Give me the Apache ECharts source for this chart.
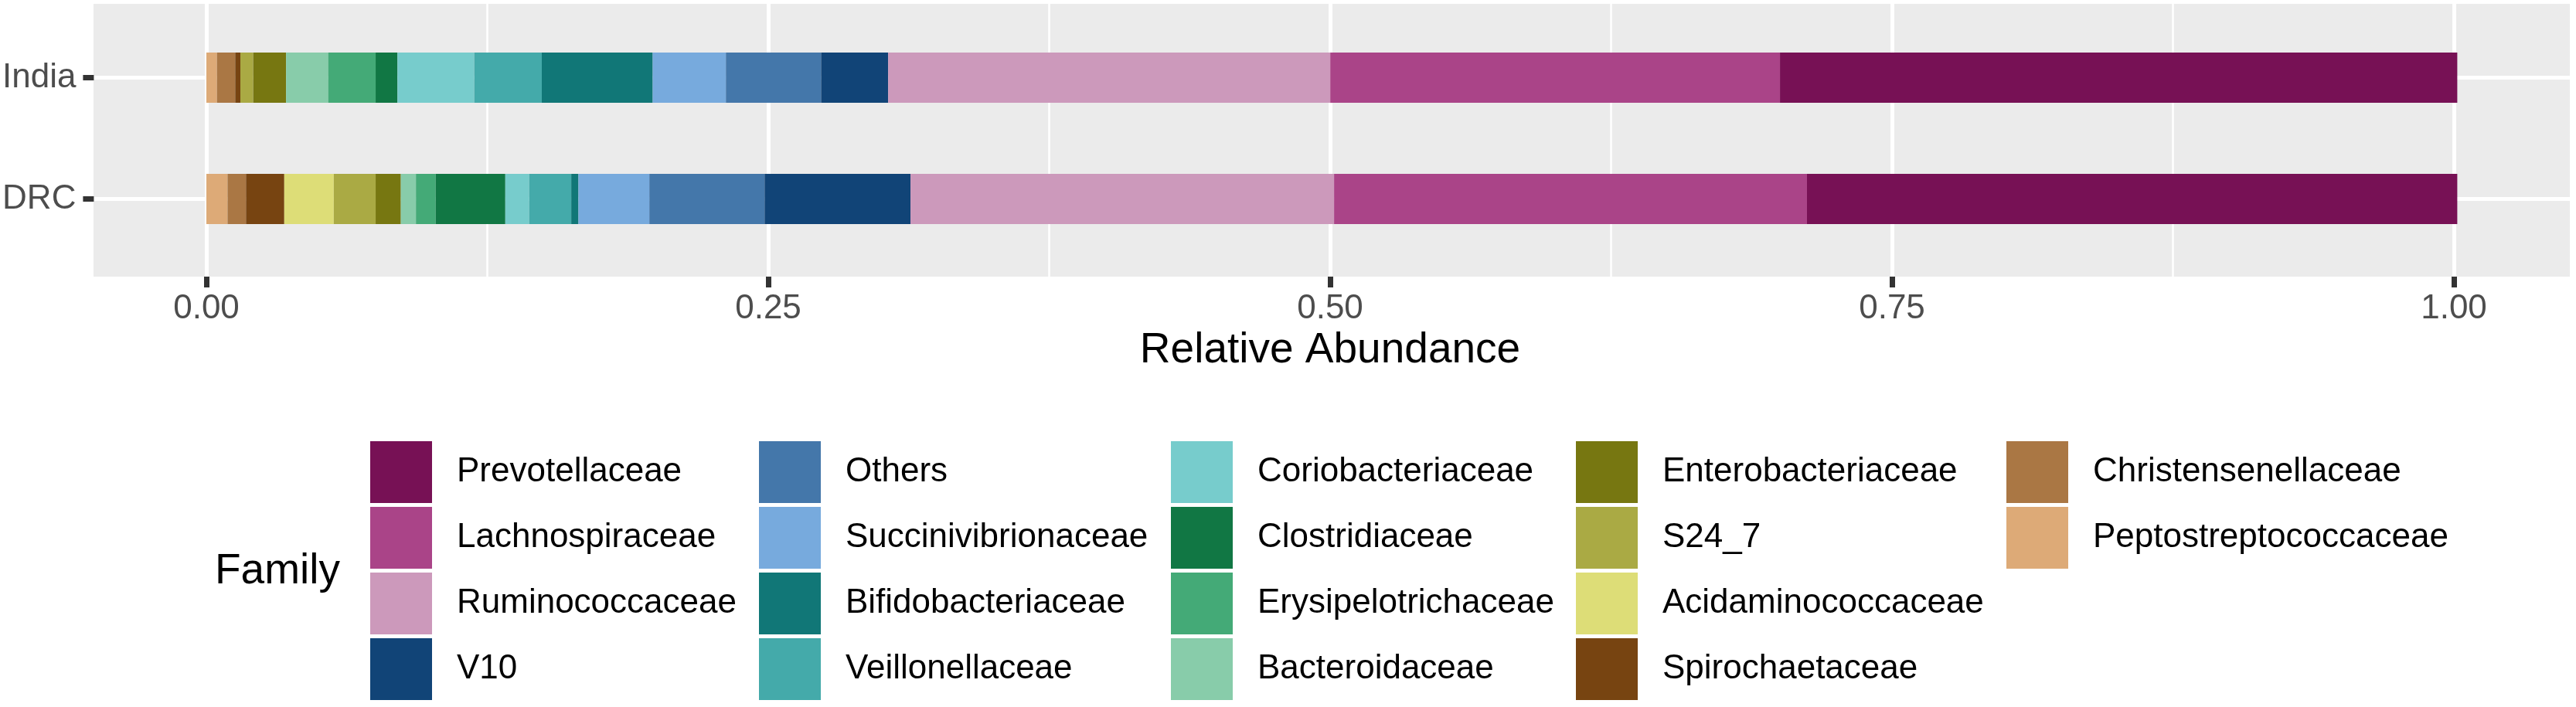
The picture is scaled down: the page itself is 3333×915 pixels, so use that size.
<!DOCTYPE html>
<html>
<head>
<meta charset="utf-8">
<title>Relative Abundance</title>
<style>
  body, html { margin: 0; padding: 0; background: #fff; }
</style>
</head>
<body>
<div id="container" style="width: 3333px; height: 915px"></div>
<script src="https://cdn.jsdelivr.net/npm/echarts/dist/echarts.min.js"></script>
<script>
// legend order (top of stack first)
var families = ['Prevotellaceae', 'Lachnospiraceae', 'Ruminococcaceae', 'V10',
  'Others', 'Succinivibrionaceae', 'Bifidobacteriaceae', 'Veillonellaceae',
  'Coriobacteriaceae', 'Clostridiaceae', 'Erysipelotrichaceae', 'Bacteroidaceae',
  'Enterobacteriaceae', 'S24_7', 'Acidaminococcaceae', 'Spirochaetaceae',
  'Christensenellaceae', 'Peptostreptococcaceae'];
var colors = ['#771155', '#AA4488', '#CC99BB', '#114477',
  '#4477AA', '#77AADD', '#117777', '#44AAAA',
  '#77CCCC', '#117744', '#44AA77', '#88CCAA',
  '#777711', '#AAAA44', '#DDDD77', '#774411',
  '#AA7744', '#DDAA77'];
var countries = ['DRC', 'India'];
var india = [0.3009, 0.1998, 0.1964, 0.0298, 0.0423, 0.0325, 0.0493, 0.0300,
  0.0341, 0.0097, 0.0211, 0.0187, 0.0146, 0.0057, 0, 0.0023, 0.0081, 0.0047];
var drc = [0.2889, 0.2101, 0.1882, 0.0648, 0.0512, 0.0315, 0.0032, 0.0187,
  0.0106, 0.0309, 0.0088, 0.0067, 0.0112, 0.0186, 0.0220, 0.0170, 0.0082, 0.0094];

var FONT = '"Liberation Sans", Arial, sans-serif';
var chart = echarts.init(document.getElementById('container'));

// stack from the left: last legend entry first
var series = [];
for (var i = families.length - 1; i >= 0; i--) {
  series.push({
    name: families[i],
    type: 'bar',
    stack: 'total',
    xAxisIndex: 2,
    yAxisIndex: 2,
    barWidth: 65,
    clip: false,
    itemStyle: { color: colors[i] },
    emphasis: { disabled: true },
    data: [drc[i], india[i]]
  });
}

var legends = [];
var colLeft = [479, 982, 1515, 2039, 2596];
for (var c = 0; c < colLeft.length; c++) {
  legends.push({
    data: families.slice(c * 4, c * 4 + 4),
    orient: 'vertical',
    left: colLeft[c],
    top: 571,
    padding: 0,
    icon: 'rect',
    itemWidth: 80,
    itemHeight: 80,
    itemGap: 5,
    selectedMode: false,
    textStyle: { fontSize: 44, color: '#000', fontFamily: FONT, padding: [0, 0, 0, 27] }
  });
}

var hidden = { show: false };

chart.setOption({
  animation: false,
  backgroundColor: '#fff',
  title: {
    text: 'Family',
    left: 278,
    top: 712,
    padding: 0,
    textStyle: { fontSize: 55, fontWeight: 'normal', color: '#000', fontFamily: FONT }
  },
  legend: legends,
  grid: [
    // panel background
    { left: 121, top: 5, width: 3204, height: 353, show: true, backgroundColor: '#EBEBEB', borderWidth: 0, z: 0 },
    // x scale 0..1
    { left: 267, top: 5, width: 2908, height: 353 },
    // bars
    { left: 121, top: 100.5, width: 3204, height: 157 }
  ],
  xAxis: [
    { gridIndex: 0, type: 'value', min: -0.05, max: 1.05, axisLine: hidden, axisTick: hidden, axisLabel: hidden, splitLine: hidden },
    {
      gridIndex: 1, type: 'value', min: 0, max: 1, interval: 0.25, z: 1,
      name: 'Relative Abundance',
      nameLocation: 'middle',
      nameGap: 68,
      nameTextStyle: { fontSize: 55, color: '#000', fontFamily: FONT },
      axisLine: { show: false, onZero: false },
      axisTick: { show: true, length: 14, lineStyle: { color: '#333', width: 7 } },
      axisLabel: {
        margin: 20, fontSize: 44, color: '#4D4D4D', fontFamily: FONT,
        formatter: function (v) { return v.toFixed(2); }
      },
      splitLine: { show: true, lineStyle: { color: '#fff', width: 5 } },
      minorTick: { show: false, splitNumber: 2 },
      minorSplitLine: { show: true, lineStyle: { color: '#fff', width: 2.5 } }
    },
    { gridIndex: 2, type: 'value', min: -0.05, max: 1.05, axisLine: { show: false, onZero: false }, axisTick: hidden, axisLabel: hidden, splitLine: hidden }
  ],
  yAxis: [
    { gridIndex: 0, type: 'value', axisLine: hidden, axisTick: hidden, axisLabel: hidden, splitLine: hidden },
    { gridIndex: 1, type: 'value', axisLine: hidden, axisTick: hidden, axisLabel: hidden, splitLine: hidden },
    {
      gridIndex: 2, type: 'category', data: countries, boundaryGap: false, z: 1,
      axisLine: { show: false, onZero: false },
      axisTick: { show: true, length: 14, lineStyle: { color: '#333', width: 7 } },
      axisLabel: { margin: 23, fontSize: 44, color: '#4D4D4D', fontFamily: FONT },
      splitLine: { show: true, lineStyle: { color: '#fff', width: 5 } }
    }
  ],
  series: series
});
window.onresize = chart.resize;
</script>
</body>
</html>
